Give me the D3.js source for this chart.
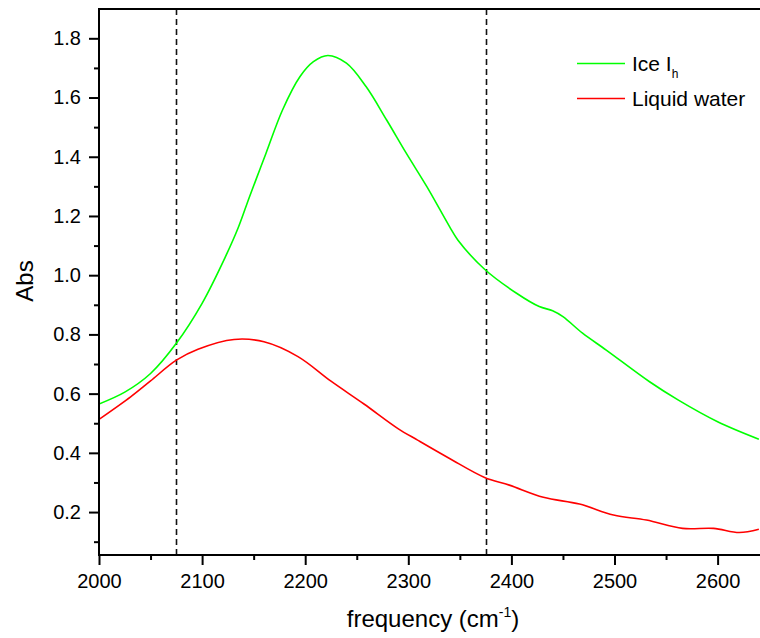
<!DOCTYPE html>
<html>
<head>
<meta charset="utf-8">
<script src="https://cdn.jsdelivr.net/npm/d3@7.9.0/dist/d3.min.js"></script>
<style>
  body { margin: 0; background: #fff; }
  svg { display: block; font-family: 'Liberation Sans', Arial, sans-serif; }
</style>
</head>
<body>
<svg id="chart" width="760" height="638"></svg>
<script>
// values
const iceFreq = [2000, 2025, 2050, 2075, 2100, 2123, 2135, 2146, 2162, 2178, 2195, 2208, 2222, 2240, 2259, 2279, 2298, 2318, 2340, 2348, 2374, 2405, 2427, 2440, 2450, 2469, 2492, 2534, 2562, 2600, 2640];
const iceAbs = [0.565, 0.605, 0.668, 0.770, 0.905, 1.065, 1.160, 1.265, 1.412, 1.558, 1.671, 1.721, 1.742, 1.716, 1.637, 1.524, 1.412, 1.299, 1.164, 1.119, 1.020, 0.939, 0.894, 0.880, 0.860, 0.804, 0.747, 0.640, 0.578, 0.505, 0.446];

const waterFreq = [2000, 2031, 2050, 2075, 2096, 2131, 2160, 2193, 2225, 2257, 2290, 2309, 2340, 2374, 2398, 2431, 2466, 2499, 2531, 2566, 2596, 2621, 2640];
const waterAbs = [0.513, 0.590, 0.643, 0.713, 0.750, 0.783, 0.775, 0.725, 0.642, 0.565, 0.482, 0.443, 0.381, 0.317, 0.291, 0.250, 0.227, 0.190, 0.173, 0.145, 0.145, 0.131, 0.142];

const markerFreq = [2075, 2375];

const xMajor = [2000, 2100, 2200, 2300, 2400, 2500, 2600];
const xMinor = [2050, 2150, 2250, 2350, 2450, 2550];
const yMajor = [0.2, 0.4, 0.6, 0.8, 1.0, 1.2, 1.4, 1.6, 1.8];
const yMinor = [0.1, 0.3, 0.5, 0.7, 0.9, 1.1, 1.3, 1.5, 1.7];

const series = [
  { name: 'Ice', sub: 'h', color: '#00ff00', freq: iceFreq, abs: iceAbs },
  { name: 'Liquid water', sub: null, color: '#ff0000', freq: waterFreq, abs: waterAbs },
];

const svg = d3.select('#chart');
const plotLeft = 99, plotTop = 9, plotBottom = 555, plotRight = 764;

const x = d3.scaleLinear().domain([2000, 2645]).range([plotLeft, plotRight]);
const y = d3.scaleLinear().domain([0.055, 1.9]).range([plotBottom, 8.7]);

svg.append('defs').append('clipPath').attr('id', 'plot')
  .append('rect')
  .attr('x', plotLeft).attr('y', plotTop)
  .attr('width', plotRight - plotLeft).attr('height', plotBottom - plotTop);

// dashed markers
svg.append('g').selectAll('line')
  .data(markerFreq)
  .join('line')
  .attr('x1', (d) => Math.round(x(d)) + 0.5)
  .attr('x2', (d) => Math.round(x(d)) + 0.5)
  .attr('y1', plotTop)
  .attr('y2', plotBottom)
  .attr('stroke', '#111')
  .attr('stroke-width', 1.6)
  .attr('stroke-dasharray', '6,4');

// curves
const line = d3.line()
  .x((d) => x(d[0]))
  .y((d) => y(d[1]))
  .curve(d3.curveCatmullRom.alpha(0.5));

svg.append('g').attr('clip-path', 'url(#plot)')
  .selectAll('path')
  .data(series)
  .join('path')
  .attr('d', (s) => line(d3.zip(s.freq, s.abs)))
  .attr('fill', 'none')
  .attr('stroke', (s) => s.color)
  .attr('stroke-width', 1.6);

// axes
function styleAxis(g) {
  g.select('.domain').remove();
  g.selectAll('.tick line').attr('stroke', '#000').attr('stroke-width', 2);
  g.selectAll('.tick text').attr('fill', '#000').style('font-size', '20px');
}

svg.append('g')
  .attr('transform', `translate(${plotLeft},0)`)
  .call(d3.axisLeft(y).tickValues(yMajor).tickSize(10).tickPadding(8).tickFormat(d3.format('.1f')))
  .call(styleAxis);

svg.append('g')
  .attr('transform', `translate(${plotLeft},0)`)
  .call(d3.axisLeft(y).tickValues(yMinor).tickSize(5).tickFormat(''))
  .call(styleAxis);

svg.append('g')
  .attr('transform', `translate(0,${plotBottom})`)
  .call(d3.axisBottom(x).tickValues(xMajor).tickSize(10).tickPadding(9).tickFormat(d3.format('d')))
  .call(styleAxis);

svg.append('g')
  .attr('transform', `translate(0,${plotBottom})`)
  .call(d3.axisBottom(x).tickValues(xMinor).tickSize(5).tickFormat(''))
  .call(styleAxis);

// frame lines: top, left, bottom
svg.append('path')
  .attr('d', `M${plotRight},${plotTop}H${plotLeft}V${plotBottom}H${plotRight}`)
  .attr('fill', 'none')
  .attr('stroke', '#000')
  .attr('stroke-width', 2);

// axis titles
const xt = svg.append('text')
  .attr('x', 433)
  .attr('y', 627)
  .attr('text-anchor', 'middle')
  .style('font-size', '24px');
xt.append('tspan').text('frequency (cm');
xt.append('tspan').attr('dy', -10).style('font-size', '14px').text('-1');
xt.append('tspan').attr('dy', 10).text(')');

svg.append('text')
  .attr('transform', 'translate(33,281) rotate(-90)')
  .attr('text-anchor', 'middle')
  .style('font-size', '24px')
  .text('Abs');

// legend
const legend = svg.append('g').selectAll('g')
  .data(series)
  .join('g')
  .attr('transform', (d, i) => `translate(577,${63.5 + i * 35})`);

legend.append('line')
  .attr('x1', 0).attr('x2', 48)
  .attr('stroke', (d) => d.color)
  .attr('stroke-width', 1.6);

const lt = legend.append('text')
  .attr('x', 55)
  .attr('y', 7)
  .style('font-size', '21px');
lt.append('tspan').text((d) => d.name + (d.sub ? ' I' : ''));
lt.filter((d) => d.sub)
  .append('tspan')
  .attr('dy', 7)
  .style('font-size', '12px')
  .text((d) => d.sub);
</script>
</body>
</html>
